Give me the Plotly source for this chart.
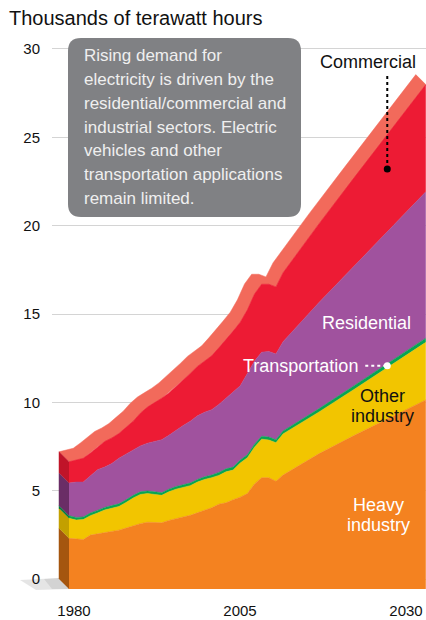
import numpy as np
import plotly.graph_objects as go

# ---- data: thousands of terawatt hours by sector ----
years = list(range(1980, 2011)) + [2015, 2020, 2025, 2030]

heavy_industry = [2.87, 2.85, 2.80, 3.05, 3.12, 3.19, 3.25, 3.33, 3.45, 3.58,
                  3.70, 3.78, 3.78, 3.75, 3.88, 4.00, 4.08, 4.17, 4.30, 4.45,
                  4.60, 4.80, 4.88, 5.05, 5.20, 5.40, 5.95, 6.30, 6.30, 6.10,
                  6.45, 7.65, 8.70, 9.70, 10.70]
other_industry = [1.13, 1.05, 1.13, 1.10, 1.18, 1.28, 1.32, 1.34, 1.45, 1.57,
                  1.65, 1.62, 1.57, 1.55, 1.62, 1.65, 1.67, 1.68, 1.75, 1.75,
                  1.70, 1.63, 1.75, 1.68, 1.93, 2.03, 2.08, 2.18, 2.13, 2.18,
                  2.33, 2.36, 2.61, 2.93, 3.26]
transportation = [0.15] * 21 + [0.17] * 10 + [0.19, 0.21, 0.22, 0.24]
residential = [1.85, 2.00, 1.97, 2.10, 2.30, 2.28, 2.38, 2.58, 2.60, 2.55,
               2.60, 2.70, 2.85, 3.00, 3.05, 3.15, 3.35, 3.50, 3.60, 3.65,
               3.70, 3.85, 4.00, 4.30, 4.20, 4.60, 4.70, 4.75, 4.85, 4.85,
               5.05, 6.00, 6.76, 7.53, 8.28]
commercial = [1.20, 1.25, 1.35, 1.30, 1.30, 1.45, 1.45, 1.40, 1.50, 1.65,
              1.85, 2.05, 2.20, 2.35, 2.40, 2.50, 2.60, 2.70, 2.80, 2.90,
              3.05, 3.20, 3.30, 3.40, 3.60, 3.60, 3.80, 3.85, 3.80, 3.80,
              3.90, 4.45, 5.02, 5.52, 6.07]

y_ticks = [0, 5, 10, 15, 20, 25, 30]
x_tick_years = [1980, 2005, 2030]
x_tick_labels = ["1980", "2005", "2030"]

sectors = [heavy_industry, other_industry, transportation, residential, commercial]
front_colors = ["#f48220", "#f2c500", "#06a653", "#a0529e", "#ed1b34"]
side_colors = ["#a5560f", "#c3a000", "#057a3c", "#6a2d66", "#c01429"]
top_color = "#f26a5b"

# ---- page geometry ----
W, H = 426, 620
ML, MR, MT, MB = 52, 0, 40, 26
PW, PH = W - ML - MR, H - MT - MB
BOTTOM = H - MB
FONT = "Liberation Sans, Arial, sans-serif"

PX_PER_YEAR = 7.136
PX_PER_UNIT = 17.667
DEPTH_PX = 10
dx = DEPTH_PX / PX_PER_YEAR
dy = DEPTH_PX / PX_PER_UNIT

x0 = years[0] - 7 / PX_PER_YEAR
x_back = [x0, x0 + PW / PX_PER_YEAR]
y0 = -(BOTTOM - 579) / PX_PER_UNIT
y_back = [y0, y0 + PH / PX_PER_UNIT]
x_front = [x_back[0] - dx, x_back[1] - dx]
y_front = [y_back[0] + dy, y_back[1] + dy]

lab_ppy = (406 - 74) / (x_tick_years[-1] - x_tick_years[0])
x_lab = [x_tick_years[0] - (74 - ML) / lab_ppy,
         x_tick_years[0] + (W - 74) / lab_ppy]


def pxx(px):
    return (px - ML) / PW


def pxy(py):
    return (BOTTOM - py) / PH


yrs = np.array(years, dtype=float)
cum = np.cumsum(np.array(sectors), axis=0)
total = cum[-1]

fig = go.Figure()

# top face of the extruded block (between back and front top edges)
top_x = list(yrs) + list((yrs + dx)[::-1])
top_y = list(total) + list((total - dy)[::-1])
fig.add_trace(go.Scatter(x=top_x, y=top_y, fill="toself", fillcolor=top_color,
                         mode="lines", line=dict(width=0.5, color=top_color),
                         hoverinfo="skip", showlegend=False))

# left side face, one band per sector
lows = [0.0] + list(cum[:-1, 0])
for lo, hi, col in zip(lows, cum[:, 0], side_colors):
    fig.add_trace(go.Scatter(
        x=[yrs[0], yrs[0], yrs[0] + dx, yrs[0] + dx],
        y=[lo, hi, hi - dy, lo - dy],
        fill="toself", fillcolor=col, mode="lines",
        line=dict(width=0.5, color=col),
        hoverinfo="skip", showlegend=False))

# front face: stacked areas
names = ["Heavy industry", "Other industry", "Transportation",
         "Residential", "Commercial"]
for name, vals, col in zip(names, sectors, front_colors):
    fig.add_trace(go.Scatter(x=years, y=vals, name=name, stackgroup="front",
                             mode="lines", line=dict(width=0.6, color=col),
                             fillcolor=col, xaxis="x2", yaxis="y2",
                             hoverinfo="skip", showlegend=False))

# callout dots
callout_year = 2024.6
res_top = np.interp(callout_year, yrs, cum[3])
com_val = np.interp(callout_year, yrs, commercial)
ind_top = np.interp(callout_year, yrs, cum[1])
tr_val = np.interp(callout_year, yrs, transportation)
com_dot = res_top + 0.65 * com_val
tr_dot = ind_top + 0.5 * tr_val
fig.add_trace(go.Scatter(x=[callout_year], y=[com_dot], mode="markers",
                         marker=dict(size=7, color="#000000"),
                         xaxis="x2", yaxis="y2", hoverinfo="skip",
                         showlegend=False))
fig.add_trace(go.Scatter(x=[callout_year], y=[tr_dot], mode="markers",
                         marker=dict(size=7, color="#ffffff"),
                         xaxis="x2", yaxis="y2", hoverinfo="skip",
                         showlegend=False))

# empty trace that carries the year labels axis
fig.add_trace(go.Scatter(x=x_tick_years, y=[None] * len(x_tick_years),
                         xaxis="x3", yaxis="y", hoverinfo="skip",
                         showlegend=False))

shapes = []
# leader lines
shapes.append(dict(type="line", xref="x2", yref="y2",
                   x0=callout_year, x1=callout_year, y0=com_dot,
                   y1=y_front[0] + (BOTTOM - 73) / PX_PER_UNIT,
                   line=dict(color="#000000", width=2, dash="dot")))
shapes.append(dict(type="line", xref="x2", yref="y2",
                   x0=callout_year - (385 - 363) / PX_PER_YEAR,
                   x1=callout_year, y0=tr_dot, y1=tr_dot,
                   line=dict(color="#ffffff", width=2, dash="dot")))

# floor shadow at the lower left
shadow_pts = [(20, 580), (59, 578), (69, 589), (36, 590)]
path = "M " + " L ".join(f"{pxx(a):.4f},{pxy(b):.4f}" for a, b in shadow_pts) + " Z"
shapes.append(dict(type="path", xref="paper", yref="paper", path=path,
                   fillcolor="rgba(0,0,0,0.10)", line=dict(width=0),
                   layer="below"))
shadow_pts2 = [(44, 579), (59, 578), (69, 589), (52, 589)]
path2 = "M " + " L ".join(f"{pxx(a):.4f},{pxy(b):.4f}" for a, b in shadow_pts2) + " Z"
shapes.append(dict(type="path", xref="paper", yref="paper", path=path2,
                   fillcolor="rgba(0,0,0,0.08)", line=dict(width=0),
                   layer="below"))

# rounded note box
bx0, by0, bx1, by1, r = 68, 38, 301, 217, 13
box_path = (
    f"M {pxx(bx0 + r)},{pxy(by0)} L {pxx(bx1 - r)},{pxy(by0)} "
    f"Q {pxx(bx1)},{pxy(by0)} {pxx(bx1)},{pxy(by0 + r)} "
    f"L {pxx(bx1)},{pxy(by1 - r)} "
    f"Q {pxx(bx1)},{pxy(by1)} {pxx(bx1 - r)},{pxy(by1)} "
    f"L {pxx(bx0 + r)},{pxy(by1)} "
    f"Q {pxx(bx0)},{pxy(by1)} {pxx(bx0)},{pxy(by1 - r)} "
    f"L {pxx(bx0)},{pxy(by0 + r)} "
    f"Q {pxx(bx0)},{pxy(by0)} {pxx(bx0 + r)},{pxy(by0)} Z"
)
shapes.append(dict(type="path", xref="paper", yref="paper", path=box_path,
                   fillcolor="#808184", line=dict(width=0), layer="above"))

note_lines = ["Rising demand for",
              "electricity is driven by the",
              "residential/commercial and",
              "industrial sectors. Electric",
              "vehicles and other",
              "transportation applications",
              "remain limited."]

annotations = [
    dict(text="Thousands of terawatt hours", x=pxx(7), y=pxy(18),
         xanchor="left", yanchor="middle", font=dict(size=20, color="#111111")),
    dict(text="Commercial", x=pxx(368), y=pxy(62), xanchor="center",
         yanchor="middle", font=dict(size=18, color="#111111")),
    dict(text="Residential", x=pxx(366), y=pxy(323), xanchor="center",
         yanchor="middle", font=dict(size=18, color="#ffffff")),
    dict(text="Transportation", x=pxx(360), y=pxy(366), xanchor="right",
         yanchor="middle", font=dict(size=18, color="#ffffff")),
    dict(text="Other", x=pxx(382), y=pxy(396), xanchor="center",
         yanchor="middle", font=dict(size=18, color="#111111")),
    dict(text="industry", x=pxx(382), y=pxy(416), xanchor="center",
         yanchor="middle", font=dict(size=18, color="#111111")),
    dict(text="Heavy", x=pxx(378), y=pxy(505), xanchor="center",
         yanchor="middle", font=dict(size=18, color="#ffffff")),
    dict(text="industry", x=pxx(378), y=pxy(525), xanchor="center",
         yanchor="middle", font=dict(size=18, color="#ffffff")),
]
for i, line in enumerate(note_lines):
    annotations.append(dict(text=line, x=pxx(82), y=pxy(56 + i * 23.7),
                            xanchor="left", yanchor="middle",
                            font=dict(size=17, color="#efefef")))
for a in annotations:
    a.update(xref="paper", yref="paper", showarrow=False)

fig.update_layout(
    width=W, height=H,
    margin=dict(l=ML, r=MR, t=MT, b=MB, pad=0),
    paper_bgcolor="#ffffff", plot_bgcolor="#ffffff",
    font=dict(family=FONT, size=15, color="#111111"),
    showlegend=False, hovermode=False,
    xaxis=dict(range=x_back, visible=False, fixedrange=True,
               automargin=False),
    yaxis=dict(range=y_back, tickvals=y_ticks, showgrid=True,
               gridcolor="#d4d4d4", gridwidth=1, zeroline=False,
               showline=False, ticks="outside", ticklen=8,
               tickcolor="rgba(0,0,0,0)", tickfont=dict(size=15),
               fixedrange=True, automargin=False),
    xaxis2=dict(range=x_front, overlaying="x", anchor="y2", visible=False,
                fixedrange=True, automargin=False),
    yaxis2=dict(range=y_front, overlaying="y", anchor="x2", visible=False,
                fixedrange=True, automargin=False),
    xaxis3=dict(range=x_lab, overlaying="x", anchor="y", side="bottom",
                tickvals=x_tick_years, ticktext=x_tick_labels,
                showgrid=False, zeroline=False, showline=False,
                ticks="outside", ticklen=3, tickcolor="rgba(0,0,0,0)",
                tickfont=dict(size=15), fixedrange=True, automargin=False),
    shapes=shapes,
    annotations=annotations,
)

fig.write_html("out.html", config={"displayModeBar": False})
